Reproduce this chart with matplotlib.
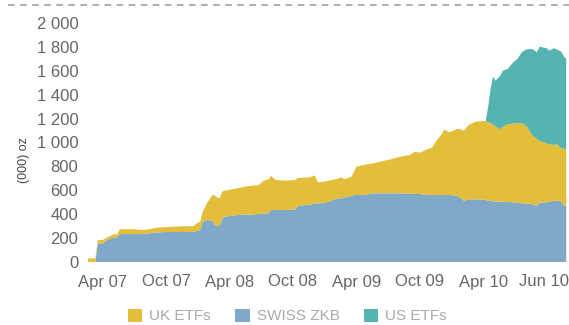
import matplotlib
matplotlib.use("Agg")
import matplotlib.pyplot as plt
from matplotlib.patches import Patch
from matplotlib.lines import Line2D
import numpy as np

# Weeks counted from the start of April 2007
weeks = [-6, -3, -2, 0, 2, 4, 6, 7, 13, 16, 19, 22, 27, 33, 37, 39, 40, 41, 43, 45,
         46, 47, 48, 49, 50, 53, 57, 60, 64, 66, 68, 69, 71, 75, 79, 80, 85, 87, 88,
         89, 93, 96, 98, 99, 102, 103, 104, 107, 111, 114, 118, 122, 126, 128, 130,
         133, 135, 137, 139, 140, 142, 145, 146, 148, 150, 153, 157, 158, 159, 160,
         161, 163, 164, 166, 168, 170, 172, 174, 176, 178, 179, 182, 183, 185, 186,
         188, 189, 190]

# Holdings, thousand ounces
swiss_zkb = [0, 0, 156, 156, 184, 204, 206, 234, 234, 234, 240, 248, 251, 251, 251,
             262, 268, 337, 351, 346, 310, 301, 301, 365, 379, 388, 396, 396, 402, 407,
             407, 435, 435, 435, 441, 469, 480, 491, 491, 491, 505, 533, 533, 541, 552,
             561, 561, 561, 575, 575, 575, 575, 572, 569, 569, 561, 561, 561, 561, 561,
             561, 555, 548, 513, 524, 524, 519, 513, 510, 508, 507, 505, 505, 502, 500,
             495, 491, 488, 485, 471, 497, 500, 505, 513, 513, 505, 471, 471]

uk_etfs = [30, 30, 28, 28, 23, 22, 28, 40, 40, 34, 34, 39, 42, 48, 48, 67, 69, 83, 149,
           215, 245, 239, 232, 224, 218, 220, 229, 240, 242, 274, 285, 285, 251, 246,
           245, 234, 229, 234, 181, 176, 176, 162, 176, 151, 162, 195, 237, 251, 251,
           265, 284, 306, 324, 354, 346, 382, 396, 460, 509, 549, 524, 555, 568, 586,
           623, 651, 661, 657, 651, 642, 626, 605, 628, 651, 658, 666, 670, 642, 575,
           559, 516, 493, 480, 466, 475, 447, 477, 472]

us_etfs = [0] * 66 + [0, 130, 289, 401, 385, 450, 468, 462, 507, 539, 599, 650, 723,
                      725, 789, 796, 784, 810, 792, 808, 772, 757]

tick_weeks = [0, 26, 52, 78, 104, 130, 156, 181]
tick_labels = ["Apr 07", "Oct 07", "Apr 08", "Oct 08", "Apr 09", "Oct 09", "Apr 10", "Jun 10"]
series_names = ["UK ETFs", "SWISS ZKB", "US ETFs"]

c_uk = "#E3BE3A"
c_swiss = "#80A8C8"
c_us = "#55B4B0"

plt.rcParams["font.family"] = ["Liberation Sans", "DejaVu Sans"]

fig = plt.figure(figsize=(5.69, 3.25), dpi=100)
ax = fig.add_axes([88 / 569, 1 - 262 / 325, 480.7 / 569, 239 / 325])

ax.stackplot(weeks, swiss_zkb, uk_etfs, us_etfs,
             colors=[c_swiss, c_uk, c_us], linewidth=0)

ax.set_xlim(-6, 191)
ax.set_ylim(0, 2000)
ax.set_yticks(np.arange(0, 2001, 200))
ax.set_yticklabels([f"{v:,}".replace(",", " ") for v in range(0, 2001, 200)])
ax.set_xticks(tick_weeks)
ax.set_xticklabels(tick_labels)
for s in ax.spines.values():
    s.set_visible(False)
ax.tick_params(axis="both", length=0, labelsize=12, colors="#666666")
ax.tick_params(axis="y", pad=7)
ax.tick_params(axis="x", pad=9)

fig.text(24 / 569, 1 - 160 / 325, "(000) oz", rotation=90, ha="center", va="center",
         fontsize=9, color="#444444")

# dashed rule across the top
fig.add_artist(Line2D([8 / 569, 1.0], [1 - 5 / 325, 1 - 5 / 325], transform=fig.transFigure,
                      color="#999999", lw=1.1, dashes=(4.3, 3.6)))

handles = [Patch(facecolor=c_uk, edgecolor="none"),
           Patch(facecolor=c_swiss, edgecolor="none"),
           Patch(facecolor=c_us, edgecolor="none")]
leg = fig.legend(handles, series_names, loc="center", bbox_to_anchor=(0.505, 1 - 316 / 325),
                 ncol=3, frameon=False, fontsize=11, handlelength=0.95, handleheight=0.95,
                 handletextpad=0.45, columnspacing=1.6, borderaxespad=0, borderpad=0)
for t in leg.get_texts():
    t.set_color("#AAAAAA")

fig.savefig("out.png", dpi=100)
